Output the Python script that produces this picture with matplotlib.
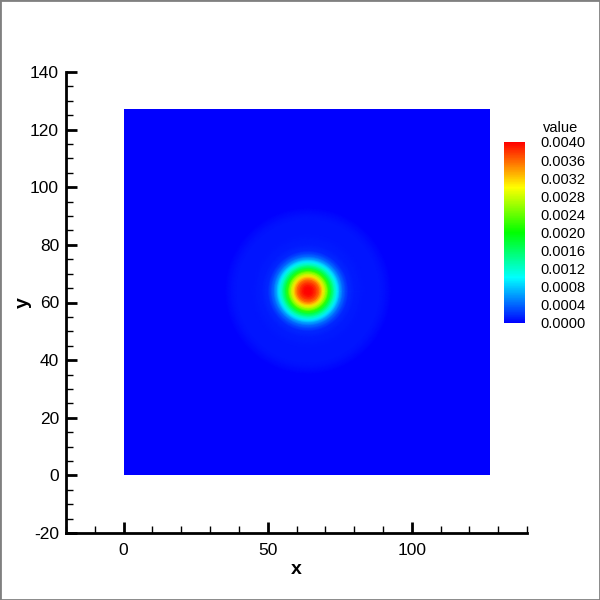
import numpy as np
import matplotlib
matplotlib.use("Agg")
import matplotlib.pyplot as plt
from matplotlib.colors import LinearSegmentedColormap
from matplotlib.patches import Rectangle
from matplotlib.ticker import MultipleLocator

plt.rcParams['font.family'] = ['Liberation Sans', 'DejaVu Sans']
plt.rcParams['axes.unicode_minus'] = False

# radial profile of the field (distance from centre -> value)
radius = np.array([0, 1, 2, 3, 4, 5, 6, 7, 8, 9, 10, 11, 12, 13, 14, 16, 20, 25, 27, 29, 32, 95])
value = np.array([0.0040, 0.00397, 0.00388, 0.00372, 0.0035, 0.0031, 0.0027, 0.0022,
                  0.0017, 0.0013, 0.00095, 0.00065, 0.00042, 0.00027, 0.00017, 0.00011,
                  0.00008, 0.00008, 0.00006, 0.00001, 0.0, 0.0])
center = (64, 64)
domain = (0, 127)
levels = np.arange(0, 0.00401, 0.0004)

cmap = LinearSegmentedColormap.from_list(
    "small_rainbow", ["#0000ff", "#00ffff", "#00ff00", "#ffff00", "#ff0000"])

fig = plt.figure(figsize=(6, 6), dpi=100)
ax = fig.add_axes([66 / 600, 1 - 533 / 600, 461 / 600, 461 / 600])

theta = np.linspace(0, 2 * np.pi, 361)
R, T = np.meshgrid(radius, theta)
X = center[0] + R * np.cos(T)
Y = center[1] + R * np.sin(T)
V = np.tile(value, (len(theta), 1))

mesh = ax.pcolormesh(X, Y, V, shading='gouraud', cmap=cmap, vmin=0, vmax=0.004)
clip = Rectangle((domain[0], domain[0]), domain[1] - domain[0], domain[1] - domain[0],
                 transform=ax.transData)
mesh.set_clip_path(clip)

ax.set_xlim(-20, 140)
ax.set_ylim(-20, 140)
ax.set_aspect('equal')
for side in ['top', 'right']:
    ax.spines[side].set_visible(False)
for side in ['left', 'bottom']:
    ax.spines[side].set_linewidth(2)

ax.xaxis.set_major_locator(MultipleLocator(50))
ax.xaxis.set_minor_locator(MultipleLocator(10))
ax.yaxis.set_major_locator(MultipleLocator(20))
ax.yaxis.set_minor_locator(MultipleLocator(5))
ax.tick_params(which='major', direction='in', length=8, width=2, labelsize=12.5)
ax.tick_params(which='minor', direction='in', length=5, width=1)
ax.tick_params(axis='x', which='major', pad=7)
ax.tick_params(axis='y', which='major', pad=5)

ax.set_xlabel('x', fontsize=14, fontweight='bold', labelpad=2)
ax.set_ylabel('y', fontsize=14, fontweight='bold', labelpad=-1)

cax = fig.add_axes([504 / 600, 1 - 323 / 600, 21 / 600, 181 / 600])
cb = fig.colorbar(mesh, cax=cax, ticks=levels, format='%.4f')
cb.outline.set_visible(False)
cax.tick_params(length=0, labelsize=10.5, pad=11)
fig.text(561 / 600, 1 - 128 / 600, 'value', fontsize=10.5, ha='center', va='center')

fig.patches.append(Rectangle((0, 0), 1, 1, transform=fig.transFigure, fill=False,
                             edgecolor='#808080', linewidth=2))

fig.savefig('out.png', dpi=100)
